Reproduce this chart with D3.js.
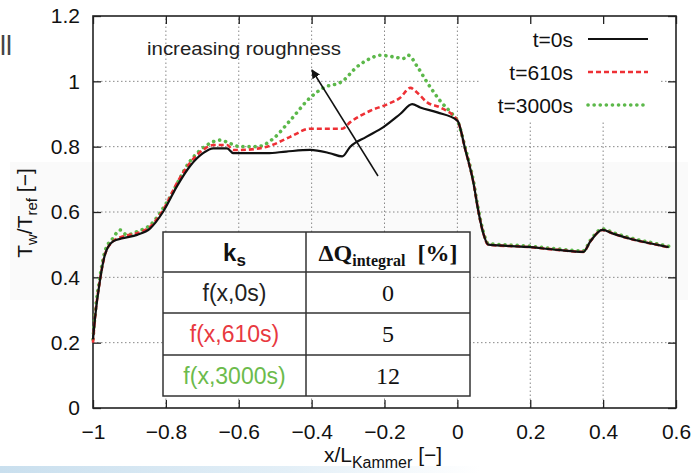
<!DOCTYPE html>
<html>
<head>
<meta charset="utf-8">
<script src="https://cdn.jsdelivr.net/npm/d3@7/dist/d3.min.js"></script>
<style>
  html, body { margin: 0; padding: 0; background: #fff; }
  svg { display: block; font-family: "Liberation Sans", Arial, Helvetica, sans-serif; }
  .serif { font-family: "Liberation Serif", "Times New Roman", serif; }
</style>
</head>
<body>
<svg id="chart" width="699" height="473"></svg>
<script>
// Wall temperature ratio along the chamber for three roughness states
const xTicks = [-1, -0.8, -0.6, -0.4, -0.2, 0, 0.2, 0.4, 0.6];
const xTickLabels = ["\u22121", "\u22120.8", "\u22120.6", "\u22120.4", "\u22120.2", "0", "0.2", "0.4", "0.6"];
const yTicks = [0, 0.2, 0.4, 0.6, 0.8, 1, 1.2];
const yTickLabels = ["0", "0.2", "0.4", "0.6", "0.8", "1", "1.2"];

const seriesNames = ["t=0s", "t=610s", "t=3000s"];

const x0s = [-1, -0.995, -0.981, -0.967, -0.945, -0.918, -0.879, -0.843, -0.808, -0.769, -0.734, -0.698, -0.67, -0.632, -0.615, -0.596, -0.522, -0.47, -0.404, -0.35, -0.316, -0.294, -0.25, -0.203, -0.157, -0.124, -0.102, -0.055, 0, 0.022, 0.044, 0.058, 0.071, 0.085, 0.192, 0.275, 0.346, 0.365, 0.398, 0.429, 0.484, 0.538, 0.58];
const y0s = [0.21, 0.27, 0.39, 0.47, 0.51, 0.52, 0.53, 0.55, 0.60, 0.68, 0.74, 0.78, 0.795, 0.795, 0.78, 0.78, 0.78, 0.785, 0.79, 0.78, 0.77, 0.80, 0.83, 0.86, 0.90, 0.93, 0.92, 0.905, 0.88, 0.79, 0.69, 0.60, 0.535, 0.50, 0.493, 0.484, 0.478, 0.51, 0.545, 0.533, 0.515, 0.502, 0.492];

const x610s = [-1, -0.995, -0.981, -0.967, -0.945, -0.918, -0.879, -0.843, -0.808, -0.769, -0.734, -0.698, -0.67, -0.632, -0.615, -0.596, -0.522, -0.459, -0.404, -0.316, -0.294, -0.239, -0.192, -0.157, -0.129, -0.11, -0.082, -0.047, 0, 0.022, 0.044, 0.058, 0.071, 0.085, 0.192, 0.275, 0.346, 0.365, 0.398, 0.429, 0.484, 0.538, 0.58];
const y610s = [0.20, 0.27, 0.39, 0.47, 0.51, 0.525, 0.535, 0.555, 0.605, 0.69, 0.75, 0.79, 0.805, 0.805, 0.79, 0.79, 0.80, 0.83, 0.855, 0.855, 0.875, 0.91, 0.93, 0.95, 0.98, 0.965, 0.935, 0.92, 0.88, 0.79, 0.69, 0.60, 0.535, 0.50, 0.493, 0.484, 0.478, 0.51, 0.545, 0.533, 0.515, 0.502, 0.492];

const x3000s = [-1, -0.995, -0.981, -0.967, -0.945, -0.926, -0.907, -0.879, -0.843, -0.797, -0.734, -0.687, -0.651, -0.624, -0.596, -0.549, -0.505, -0.459, -0.404, -0.368, -0.316, -0.275, -0.239, -0.212, -0.176, -0.148, -0.135, -0.11, -0.082, -0.047, -0.014, 0, 0.022, 0.044, 0.058, 0.071, 0.085, 0.192, 0.275, 0.346, 0.365, 0.398, 0.429, 0.484, 0.538, 0.58];
const y3000s = [0.21, 0.28, 0.40, 0.48, 0.52, 0.545, 0.53, 0.54, 0.56, 0.63, 0.755, 0.805, 0.82, 0.81, 0.80, 0.80, 0.825, 0.88, 0.95, 0.98, 1.0, 1.045, 1.07, 1.08, 1.075, 1.07, 1.08, 1.045, 0.995, 0.94, 0.90, 0.88, 0.795, 0.695, 0.605, 0.54, 0.503, 0.496, 0.487, 0.481, 0.513, 0.548, 0.536, 0.518, 0.505, 0.495];

const tableKs = ["f(x,0s)", "f(x,610s)", "f(x,3000s)"];
const tableDeltaQ = ["0", "5", "12"];

const colors = ["#111111", "#ee3035", "#5cb84a"];
const textColors = ["#222222", "#e8393f", "#6cbb4c"];

const svg = d3.select("#chart");
const defs = svg.append("defs");

const x = d3.scaleLinear().domain([-1, 0.6]).range([93, 676]);
const y = d3.scaleLinear().domain([0, 1.2]).range([408, 16]);

// Soft band across the middle
svg.append("rect").attr("x", 10).attr("y", 162).attr("width", 678).attr("height", 138)
  .attr("fill", "#fafafa");

// Stray "ll" at top left
svg.append("text").attr("x", 0).attr("y", 55).attr("font-size", 27).attr("fill", "#444").text("ll");

// Faint blue strip at the bottom
const grad = defs.append("linearGradient").attr("id", "strip")
  .attr("x1", "0%").attr("x2", "100%");
grad.append("stop").attr("offset", "0%").attr("stop-color", "#c9dfee");
grad.append("stop").attr("offset", "60%").attr("stop-color", "#e3eff7");
grad.append("stop").attr("offset", "100%").attr("stop-color", "#ffffff");
svg.append("rect").attr("x", 0).attr("y", 466).attr("width", 480).attr("height", 7).attr("fill", "url(#strip)");

// Grid
const grid = svg.append("g").attr("stroke", "#888").attr("stroke-width", 1).attr("stroke-dasharray", "1.5,2.5");
grid.selectAll("line.gx").data(xTicks.slice(1, -1)).join("line")
  .attr("x1", d => x(d)).attr("x2", d => x(d)).attr("y1", y(0)).attr("y2", y(1.2));
grid.selectAll("line.gy").data(yTicks.slice(1, -1)).join("line")
  .attr("x1", x(-1)).attr("x2", x(0.6)).attr("y1", d => y(d)).attr("y2", d => y(d));

// Legend background
svg.append("rect").attr("x", 481).attr("y", 18).attr("width", 180).attr("height", 104).attr("fill", "#fff");

// Axes with inward ticks
const axB = svg.append("g").attr("transform", `translate(0,${y(0)})`)
  .call(d3.axisBottom(x).tickValues(xTicks).tickSize(-8).tickPadding(16)
    .tickFormat((d, i) => xTickLabels[i]));
const axL = svg.append("g").attr("transform", `translate(${x(-1)},0)`)
  .call(d3.axisLeft(y).tickValues(yTicks).tickSize(-8).tickPadding(13)
    .tickFormat((d, i) => yTickLabels[i]));
const axT = svg.append("g").attr("transform", `translate(0,${y(1.2)})`)
  .call(d3.axisTop(x).tickValues(xTicks).tickSize(-8).tickFormat(""));
const axR = svg.append("g").attr("transform", `translate(${x(0.6)},0)`)
  .call(d3.axisRight(y).tickValues(yTicks).tickSize(-8).tickFormat(""));
[axB, axL, axT, axR].forEach(g => {
  g.attr("font-family", null);
  g.select(".domain").remove();
  g.selectAll(".tick line").attr("stroke", "#222").attr("stroke-width", 1.3);
  g.selectAll(".tick text").attr("font-size", 21).attr("fill", "#111");
});

// Frame
svg.append("rect").attr("x", x(-1)).attr("y", y(1.2))
  .attr("width", x(0.6) - x(-1)).attr("height", y(0) - y(1.2))
  .attr("fill", "none").attr("stroke", "#222").attr("stroke-width", 1.6);

// Curves
const line = d3.line().x(d => x(d[0])).y(d => y(d[1])).curve(d3.curveMonotoneX);
const series = [
  { xs: x0s, ys: y0s, dash: null, width: 2.2, cap: "butt" },
  { xs: x610s, ys: y610s, dash: "5,3", width: 2.6, cap: "butt" },
  { xs: x3000s, ys: y3000s, dash: "0.1,6", width: 3.6, cap: "round" }
];
[2, 1, 0].forEach(i => {
  const s = series[i];
  svg.append("path")
    .datum(s.xs.map((v, k) => [v, s.ys[k]]))
    .attr("d", line)
    .attr("fill", "none")
    .attr("stroke", colors[i])
    .attr("stroke-width", s.width)
    .attr("stroke-linecap", s.cap)
    .attr("stroke-linejoin", "round")
    .attr("stroke-dasharray", s.dash);
});

// Legend
const legY = [39, 72, 105];
seriesNames.forEach((name, i) => {
  const s = series[i];
  svg.append("text").attr("x", 573).attr("y", legY[i] + 8).attr("text-anchor", "end")
    .attr("font-size", 21).attr("fill", "#111").text(name);
  svg.append("line").attr("x1", 588).attr("x2", 648).attr("y1", legY[i]).attr("y2", legY[i])
    .attr("stroke", colors[i]).attr("stroke-width", s.width)
    .attr("stroke-linecap", s.cap).attr("stroke-dasharray", s.dash);
});

// Annotation arrow
defs.append("marker").attr("id", "arrowhead").attr("viewBox", "0 0 10 10")
  .attr("refX", 9).attr("refY", 5).attr("markerWidth", 9).attr("markerHeight", 9)
  .attr("markerUnits", "userSpaceOnUse").attr("orient", "auto")
  .append("path").attr("d", "M0,0 L10,5 L0,10 Z").attr("fill", "#111");
svg.append("line").attr("x1", 378).attr("y1", 176).attr("x2", 312).attr("y2", 70)
  .attr("stroke", "#111").attr("stroke-width", 1.5).attr("marker-end", "url(#arrowhead)");
svg.append("text").attr("x", 147).attr("y", 55).attr("font-size", 17.5).attr("fill", "#222")
  .attr("textLength", 194).attr("lengthAdjust", "spacingAndGlyphs")
  .text("increasing roughness");

// Table
const tL = 163, tM = 306, tR = 470;
const rowsY = [232, 272, 313, 355, 396];
const tbl = svg.append("g");
tbl.append("rect").attr("x", tL).attr("y", rowsY[0]).attr("width", tR - tL).attr("height", rowsY[4] - rowsY[0])
  .attr("fill", "#fff").attr("stroke", "#333").attr("stroke-width", 1.5);
rowsY.slice(1, 4).forEach(ry => {
  tbl.append("line").attr("x1", tL).attr("x2", tR).attr("y1", ry).attr("y2", ry)
    .attr("stroke", "#333").attr("stroke-width", 1.5);
});
tbl.append("line").attr("x1", tM).attr("x2", tM).attr("y1", rowsY[0]).attr("y2", rowsY[4])
  .attr("stroke", "#333").attr("stroke-width", 1.5);

const c1 = (tL + tM) / 2, c2 = (tM + tR) / 2;
const hdr1 = tbl.append("text").attr("x", c1).attr("y", 261).attr("text-anchor", "middle")
  .attr("font-size", 24).attr("font-weight", "bold").attr("fill", "#111");
hdr1.append("tspan").text("k");
hdr1.append("tspan").attr("dy", 5).attr("font-size", 17).text("s");

const hdr2 = tbl.append("text").attr("class", "serif").attr("x", c2).attr("y", 261).attr("text-anchor", "middle")
  .attr("font-size", 24).attr("font-weight", "bold").attr("fill", "#111");
hdr2.append("tspan").text("\u0394Q");
hdr2.append("tspan").attr("dy", 5).attr("font-size", 16).text("integral");
hdr2.append("tspan").attr("dy", -5).text("\u00a0\u00a0[%]");

tableKs.forEach((k, i) => {
  const by = rowsY[i + 1] + 29;
  tbl.append("text").attr("x", c1).attr("y", by).attr("text-anchor", "middle")
    .attr("font-size", 23).attr("fill", textColors[i]).text(k);
  tbl.append("text").attr("class", "serif").attr("x", c2).attr("y", by).attr("text-anchor", "middle")
    .attr("font-size", 24).attr("fill", "#111").text(tableDeltaQ[i]);
});

// Axis titles
const xt = svg.append("text").attr("x", 383).attr("y", 462).attr("text-anchor", "middle")
  .attr("font-size", 21).attr("fill", "#111");
xt.append("tspan").text("x/L");
xt.append("tspan").attr("dy", 6).attr("font-size", 16).text("Kammer");
xt.append("tspan").attr("dy", -6).text(" [\u2212]");

const yt = svg.append("text").attr("transform", "translate(32,213) rotate(-90)")
  .attr("text-anchor", "middle").attr("font-size", 21).attr("fill", "#111");
yt.append("tspan").text("T");
yt.append("tspan").attr("dy", 5).attr("font-size", 15).text("w");
yt.append("tspan").attr("dy", -5).text("/T");
yt.append("tspan").attr("dy", 5).attr("font-size", 15).text("ref");
yt.append("tspan").attr("dy", -5).text(" [\u2212]");
</script>
</body>
</html>
